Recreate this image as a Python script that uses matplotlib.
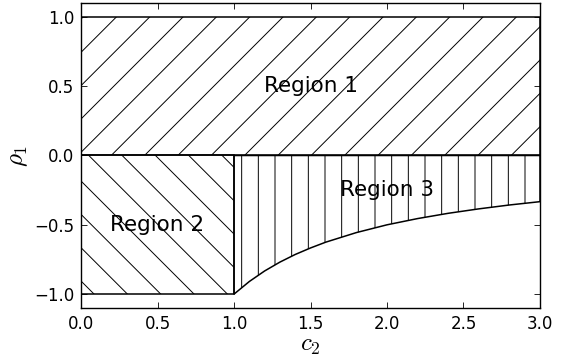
import numpy as np
import matplotlib
matplotlib.use('Agg')
import matplotlib.pyplot as plt
from matplotlib.patches import Rectangle

# boundary curve of region 3
c2_curve = [1.0, 1.1, 1.2, 1.3, 1.4, 1.5, 1.6, 1.8, 2.0, 2.2, 2.4, 2.6, 2.8, 3.0]
rho_curve = [-1.0, -0.909, -0.833, -0.769, -0.714, -0.667, -0.625, -0.556,
             -0.5, -0.455, -0.417, -0.385, -0.357, -0.333]

region_names = ['Region 1', 'Region 2', 'Region 3']
label_x = [1.5, 0.5, 2.0]
label_y = [0.5, -0.5, -0.25]

xticks = [0.0, 0.5, 1.0, 1.5, 2.0, 2.5, 3.0]
yticks = [-1.0, -0.5, 0.0, 0.5, 1.0]

plt.rcParams['mathtext.fontset'] = 'cm'
plt.rcParams['hatch.linewidth'] = 0.7

fig = plt.figure(figsize=(5.71, 3.58), dpi=100)
ax = fig.add_axes([0.1419, 0.1397, 0.8038, 0.8519])

lw = 1.1
ax.add_patch(Rectangle((0, 0), 3, 1, facecolor='none', edgecolor='black',
                       hatch='/', linewidth=lw))
ax.add_patch(Rectangle((0, -1), 1, 1, facecolor='none', edgecolor='black',
                       hatch='\\', linewidth=lw))
ax.fill_between(c2_curve, rho_curve, 0, facecolor='none', edgecolor='black',
                hatch='|', linewidth=lw)

for name, x, y in zip(region_names, label_x, label_y):
    ax.text(x, y, name, fontsize=15.5, ha='center', va='center')

ax.set_xlim(0, 3)
ax.set_ylim(-1.1, 1.1)
ax.set_xticks(xticks)
ax.set_yticks(yticks)
ax.tick_params(direction='in', top=True, right=True, length=4, width=0.6,
               labelsize=12, pad=5)
for s in ax.spines.values():
    s.set_linewidth(1.0)

ax.set_xlabel('$c_2$', fontsize=18, labelpad=0)
ax.set_ylabel(r'$\rho_1$', fontsize=18, labelpad=3)

fig.savefig('out.png', dpi=100)
